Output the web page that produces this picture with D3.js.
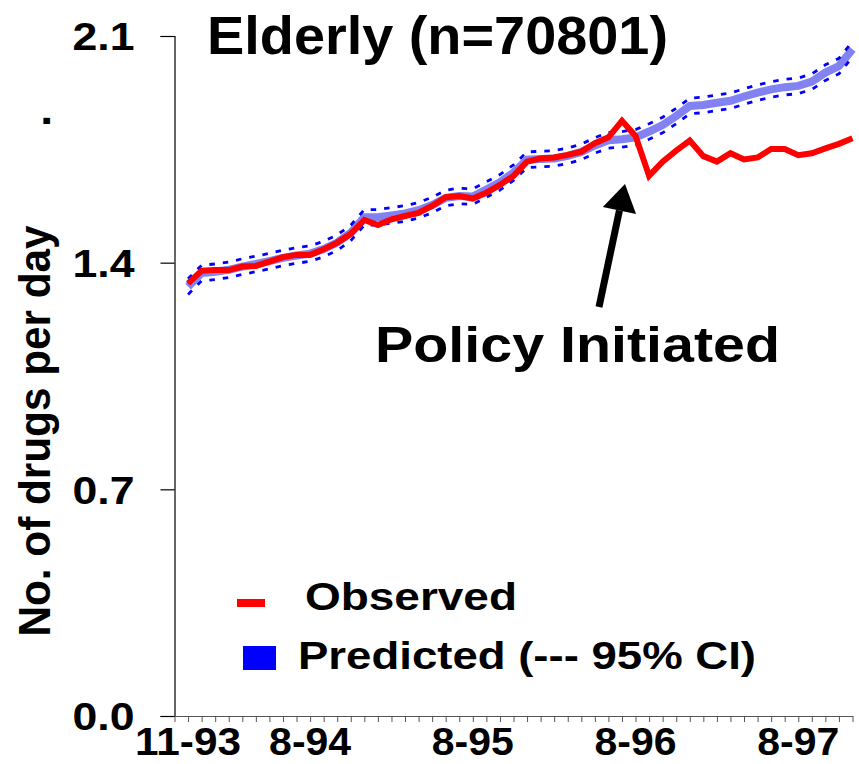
<!DOCTYPE html>
<html>
<head>
<meta charset="utf-8">
<script src="https://cdn.jsdelivr.net/npm/d3@7"></script>
<style>
  body { margin: 0; background: #fff; }
  text { font-family: "Liberation Sans", Arial, sans-serif; font-weight: bold; }
</style>
</head>
<body>
<svg class="chart"></svg>
<script>
// months on the category axis
var months = ["11-93","12-93","1-94","2-94","3-94","4-94","5-94","6-94","7-94","8-94",
  "9-94","10-94","11-94","12-94","1-95","2-95","3-95","4-95","5-95","6-95","7-95","8-95",
  "9-95","10-95","11-95","12-95","1-96","2-96","3-96","4-96","5-96","6-96","7-96","8-96",
  "9-96","10-96","11-96","12-96","1-97","2-97","3-97","4-97","5-97","6-97","7-97","8-97",
  "9-97","10-97","11-97","12-97"];
var xLabels = ["11-93","8-94","8-95","8-96","8-97"];
var yTicks = [0, 0.7, 1.4, 2.1];

var observed = [1.336,1.375,1.377,1.377,1.388,1.390,1.403,1.417,1.424,1.424,
  1.441,1.462,1.489,1.532,1.516,1.534,1.544,1.554,1.575,1.602,
  1.606,1.598,1.616,1.640,1.668,1.712,1.722,1.725,1.733,1.743,
  1.769,1.787,1.838,1.791,1.668,1.712,1.746,1.777,1.729,1.712,
  1.738,1.719,1.725,1.751,1.751,1.732,1.738,1.753,1.767,1.784];

var predicted = [1.326,1.368,1.372,1.378,1.388,1.396,1.405,1.415,1.422,1.428,
  1.442,1.462,1.492,1.540,1.540,1.546,1.552,1.562,1.578,1.600,
  1.606,1.604,1.626,1.648,1.678,1.718,1.720,1.722,1.730,1.742,
  1.762,1.778,1.781,1.787,1.805,1.825,1.853,1.884,1.887,1.894,
  1.900,1.913,1.925,1.935,1.942,1.946,1.959,1.987,2.007,2.059];

var ciUpper = [1.350,1.392,1.396,1.402,1.412,1.420,1.429,1.439,1.446,1.452,
  1.466,1.486,1.516,1.564,1.564,1.570,1.576,1.586,1.602,1.624,
  1.630,1.628,1.650,1.672,1.702,1.742,1.744,1.746,1.754,1.766,
  1.786,1.802,1.805,1.811,1.829,1.849,1.877,1.908,1.911,1.918,
  1.924,1.937,1.949,1.959,1.966,1.970,1.983,2.011,2.031,2.083];

var ciLower = [1.302,1.344,1.348,1.354,1.364,1.372,1.381,1.391,1.398,1.404,
  1.418,1.438,1.468,1.516,1.516,1.522,1.528,1.538,1.554,1.576,
  1.582,1.580,1.602,1.624,1.654,1.694,1.696,1.698,1.706,1.718,
  1.738,1.754,1.757,1.763,1.781,1.801,1.829,1.860,1.863,1.870,
  1.876,1.889,1.901,1.911,1.918,1.922,1.935,1.963,1.983,2.035];

var W = 859, H = 764;
var svg = d3.select(".chart").attr("width", W).attr("height", H);

// the source text is a bit wider than Arial, so stretch it to the measured width
function stretch(sel, len) {
  sel.attr("textLength", len).attr("lengthAdjust", "spacingAndGlyphs");
}

// points sit on the tick marks, first one a tick to the right of the y axis
var x = d3.scaleLinear().domain([-1, months.length - 1]).range([174.5, 852.5]);
var y = d3.scaleLinear().domain([0, 2.1]).range([716, 36]);

// y axis
var yAxis = svg.append("g")
  .attr("transform", "translate(174.5,0)")
  .call(d3.axisLeft(y).tickValues(yTicks).tickFormat(d3.format(".1f")).tickSize(14).tickPadding(26));
yAxis.select(".domain").attr("stroke", "#000").attr("stroke-width", 1.2);
yAxis.selectAll(".tick line").attr("stroke", "#000").attr("stroke-width", 1.2);
yAxis.selectAll(".tick text")
  .attr("font-size", 38).attr("fill", "#000").attr("dy", "0.36em")
  .attr("font-family", "Liberation Sans, Arial, sans-serif").attr("font-weight", "bold")
  .call(stretch, 62);

// x axis with a tick at every month boundary
var xAxis = svg.append("g")
  .attr("transform", "translate(0,716)")
  .call(d3.axisBottom(x).tickValues(d3.range(-1, months.length)).tickFormat("").tickSize(6).tickSizeOuter(0));
xAxis.select(".domain").attr("stroke", "#555").attr("stroke-width", 1.2);
xAxis.selectAll(".tick line").attr("stroke", "#555").attr("stroke-width", 1);

svg.append("g").selectAll("text")
  .data(xLabels)
  .enter().append("text")
    .attr("x", function(d) { return x(months.indexOf(d)); })
    .attr("y", 755)
    .attr("text-anchor", "middle")
    .attr("font-size", 38)
    .attr("textLength", function(d) { return d.length > 4 ? 106 : 82; })
    .attr("lengthAdjust", "spacingAndGlyphs")
    .text(function(d) { return d; });

// lines
var line = d3.line()
  .x(function(d, i) { return x(i); })
  .y(function(d) { return y(d); });

svg.append("path")
  .attr("d", line(predicted))
  .attr("fill", "none")
  .attr("stroke", "#8282f2")
  .attr("stroke-width", 8);

[ciUpper, ciLower].forEach(function(ci) {
  svg.append("path")
    .attr("d", line(ci))
    .attr("fill", "none")
    .attr("stroke", "#0000ff")
    .attr("stroke-width", 2.8)
    .attr("stroke-dasharray", "5.5,8");
});

svg.append("path")
  .attr("d", line(observed))
  .attr("fill", "none")
  .attr("stroke", "#ff0000")
  .attr("stroke-width", 6)
  .attr("stroke-linejoin", "miter");

// title
svg.append("text")
  .attr("x", 437.5).attr("y", 54)
  .attr("text-anchor", "middle")
  .attr("font-size", 54)
  .call(stretch, 461)
  .text("Elderly (n=70801)");

// y axis title
svg.append("text")
  .attr("transform", "translate(50,431) rotate(-90)")
  .attr("text-anchor", "middle")
  .attr("font-size", 44)
  .call(stretch, 411)
  .text("No. of drugs per day");
svg.append("text")
  .attr("transform", "translate(50,121) rotate(-90)")
  .attr("text-anchor", "middle")
  .attr("font-size", 44)
  .text(".");

// policy annotation
svg.append("text")
  .attr("x", 577.5).attr("y", 362)
  .attr("text-anchor", "middle")
  .attr("font-size", 50)
  .call(stretch, 405)
  .text("Policy Initiated");

// arrow: shaft plus a triangular head
var tail = [599, 307], tip = [625, 184];
var ang = Math.atan2(tip[1] - tail[1], tip[0] - tail[0]);
var headLen = 27, headHalf = 17;
var bx = tip[0] - headLen * Math.cos(ang), by = tip[1] - headLen * Math.sin(ang);
svg.append("line")
  .attr("x1", tail[0]).attr("y1", tail[1])
  .attr("x2", bx).attr("y2", by)
  .attr("stroke", "#000")
  .attr("stroke-width", 7);
svg.append("path")
  .attr("d", "M" + tip[0] + "," + tip[1] +
    "L" + (bx + headHalf * Math.sin(ang)) + "," + (by - headHalf * Math.cos(ang)) +
    "L" + (bx - headHalf * Math.sin(ang)) + "," + (by + headHalf * Math.cos(ang)) + "Z")
  .attr("fill", "#000");

// legend
var legend = svg.append("g");
legend.append("rect").attr("x", 237).attr("y", 599).attr("width", 28).attr("height", 8).attr("fill", "#ff0000");
legend.append("text").attr("x", 305).attr("y", 610).attr("font-size", 39).call(stretch, 212).text("Observed");
legend.append("rect").attr("x", 243).attr("y", 646).attr("width", 33).attr("height", 24).attr("fill", "#0000ff");
legend.append("text").attr("x", 298).attr("y", 669).attr("font-size", 39).call(stretch, 458).text("Predicted (--- 95% CI)");
</script>
</body>
</html>
